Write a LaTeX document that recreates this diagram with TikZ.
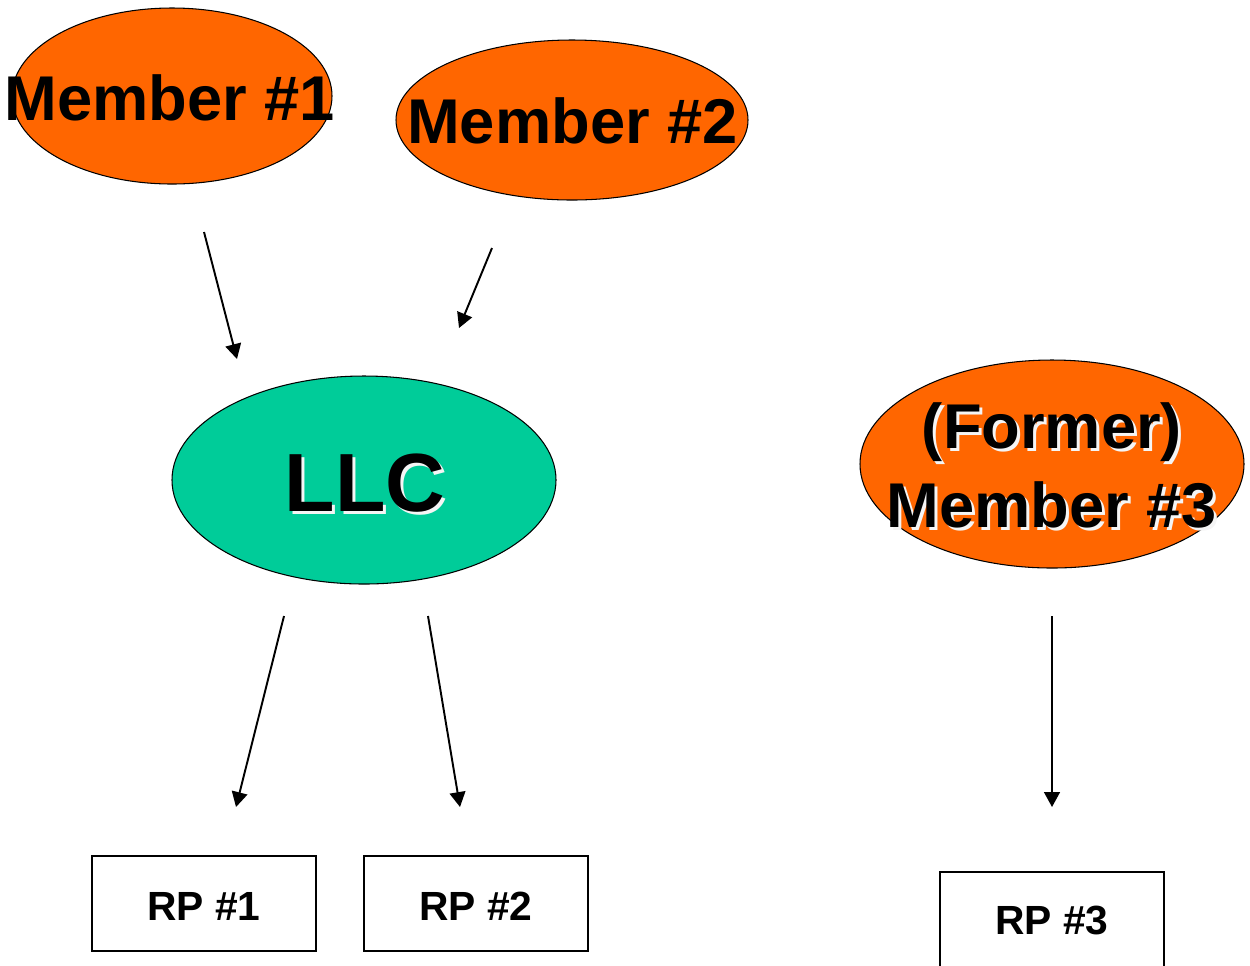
\documentclass[tikz,border=0pt]{standalone}
\usepackage{fontspec}
\setmainfont{Liberation Sans}
\usetikzlibrary{arrows.meta}
\definecolor{memberorange}{HTML}{FF6600}
\definecolor{llcgreen}{HTML}{00CC99}
% black text with a soft white drop shadow
\newcommand{\glowtext}[1]{\leavevmode\rlap{\kern1.7pt\raisebox{-1.7pt}{\color{white!92!gray}#1}}#1}
\begin{document}
\begin{tikzpicture}[x=0.02cm,y=-0.02cm,
  outline/.style={draw=black,line width=0.6pt},
  bigtext/.style={font=\fontsize{36}{44.8}\selectfont\bfseries,anchor=base,inner sep=0pt,align=center},
  llctext/.style={font=\fontsize{47}{56}\selectfont\bfseries,anchor=base,inner sep=0pt},
  rptext/.style={font=\fontsize{23.2}{28}\selectfont\bfseries,anchor=base,inner sep=0pt},
  rpbox/.style={draw=black,line width=1.2pt},
  link/.style={line width=1.1pt,-{Triangle[length=8.5pt,width=9pt]}}]
\useasboundingbox (0,0) rectangle (1250,965);

% ellipses
\filldraw[fill=memberorange,outline] (172,96) ellipse [x radius=160,y radius=88];
\filldraw[fill=memberorange,outline] (572,120) ellipse [x radius=176,y radius=80];
\filldraw[fill=llcgreen,outline] (364,480) ellipse [x radius=192,y radius=104];
\filldraw[fill=memberorange,outline] (1052,464) ellipse [x radius=192,y radius=104];

% labels
\node[bigtext] (m1) at (170,120) {Member \#1};
\node[bigtext] (m2) at (572.5,143) {Member \#2};
\node[llctext] (llc) at (365,511) {\glowtext{LLC}};
\node[bigtext] (f3a) at (1052,448) {\glowtext{(Former)}};
\node[bigtext] (m3) at (1052,527) {\glowtext{Member \#3}};

% RP boxes
\draw[rpbox] (92,856) rectangle (316,951);
\draw[rpbox] (364,856) rectangle (588,951);
\draw[rpbox] (940,872) rectangle (1164,970);
\node[rptext] (rp1) at (204,920) {RP \#1};
\node[rptext] (rp2) at (476,920) {RP \#2};
\node[rptext] (rp3) at (1052,934) {RP \#3};

% connector end points
\coordinate (a1s) at (204,232); \coordinate (a1e) at (237,359);
\coordinate (a2s) at (492,248); \coordinate (a2e) at (459,328);
\coordinate (a3s) at (284,616); \coordinate (a3e) at (236,807);
\coordinate (a4s) at (428,616); \coordinate (a4e) at (460,807);
\coordinate (a5s) at (1052,616); \coordinate (a5e) at (1052,807);
\draw[link] (a1s) -- (a1e);
\draw[link] (a2s) -- (a2e);
\draw[link] (a3s) -- (a3e);
\draw[link] (a4s) -- (a4e);
\draw[link] (a5s) -- (a5e);
\end{tikzpicture}
\end{document}
